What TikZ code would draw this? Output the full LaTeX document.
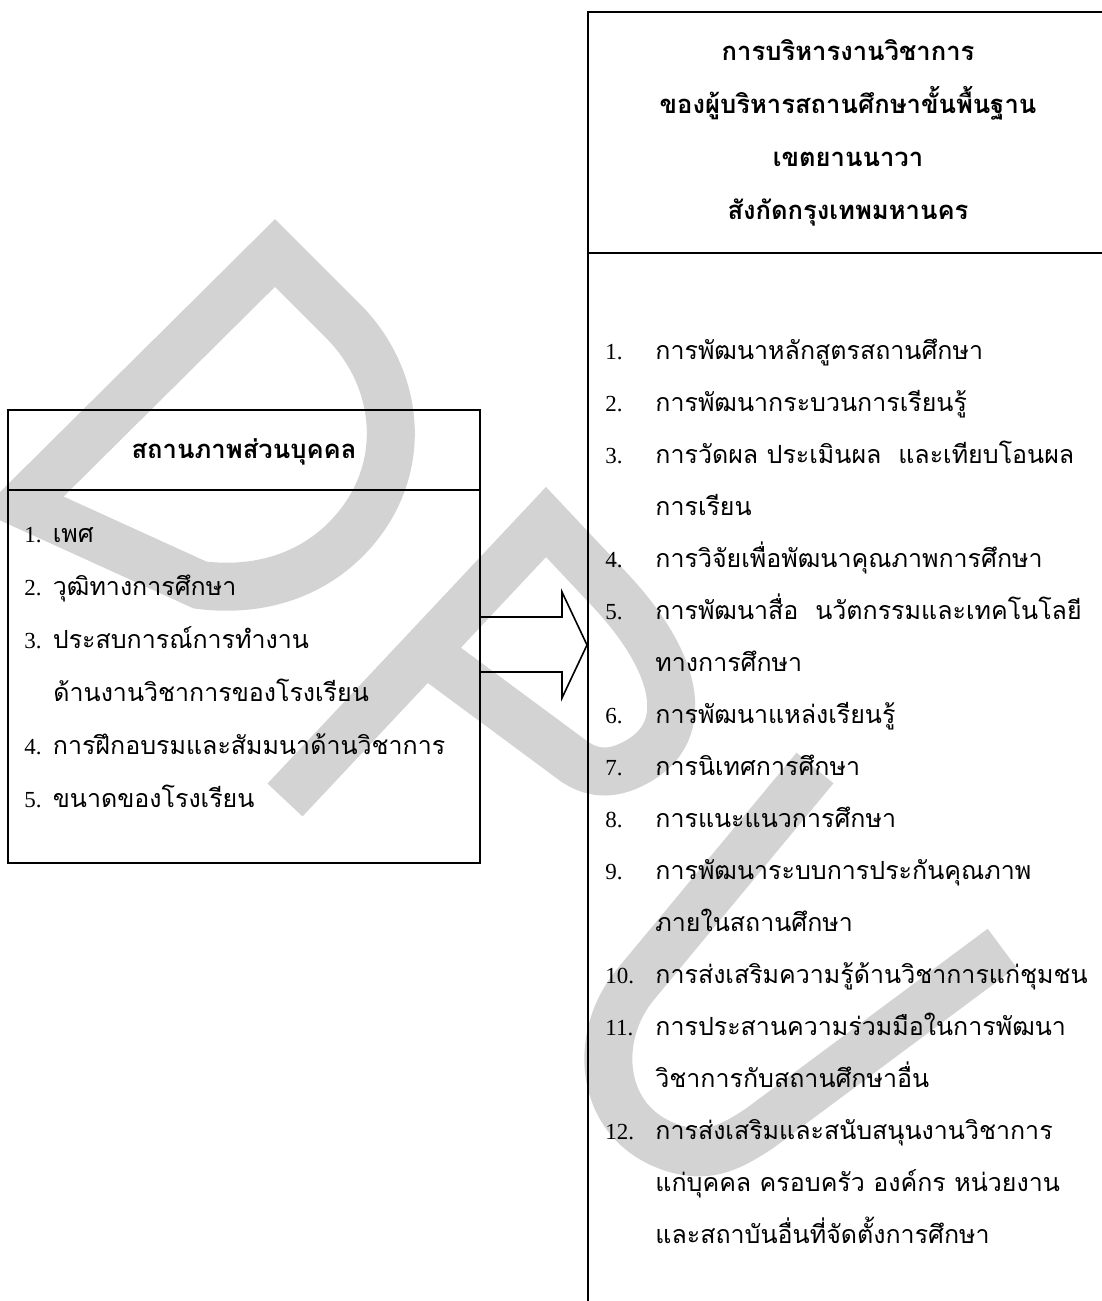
\documentclass[tikz,border=0pt]{standalone}
\usepackage{fontspec}
\newfontfamily\thaifont[Script=Thai]{Loma}
\newfontfamily\numfont{Liberation Serif}
\newcommand{\nm}[1]{{\numfont\fontsize{11.5}{14}\selectfont #1}}
\definecolor{wmgray}{RGB}{211,211,211}
\tikzset{
  wm/.style={draw=wmgray, line width=24pt, line join=miter, line cap=butt},
  box/.style={draw=black, line width=1pt, rectangle, inner sep=0pt},
  rule/.style={draw=black, line width=1pt},
  arr/.style={draw=black, line width=0.8pt, line join=miter},
  ttl/.style={anchor=base, inner sep=0pt, font=\thaifont\bfseries\fontsize{12.8}{15}\selectfont},
  itm/.style={anchor=base west, inner sep=0pt, font=\thaifont\fontsize{12.5}{15}\selectfont},
  num/.style={anchor=base west, inner sep=0pt, font=\numfont\fontsize{11.5}{14}\selectfont},
}
\begin{document}
\begin{tikzpicture}[x=0.5pt,y=-0.5pt]
\useasboundingbox (0,0) rectangle (1102,1301);
\clip (0,0) rectangle (1102,1301);
% watermark
\draw[wm] (22,504) -- (275,253) -- (345,323) .. controls (400,380) and (410,470) .. (350,535) .. controls (310,578) and (255,592) .. (200,585) -- cycle;
\draw[wm] (285,800) -- (546,522) -- (610,590) .. controls (680,665) and (690,730) .. (640,760) .. controls (615,775) and (595,775) .. (575,762) -- (425,651);
\draw[wm] (815,768) -- (635,985) .. controls (590,1040) and (600,1130) .. (680,1150) .. controls (710,1157) and (730,1148) .. (760,1128) -- (1002,948);
% boxes
\node[box, minimum width=236pt, minimum height=226.5pt] (lbox) at (244,636.5) {};
\node[box, minimum width=271pt, minimum height=659pt] (rbox) at (859,671) {};
\draw[rule] (lbox.west |- 0,490) -- (lbox.east |- 0,490);
\draw[rule] (rbox.west |- 0,253) -- (rbox.east |- 0,253);
% arrow
\draw[arr] (lbox.east |- 0,617) -- (562,617) -- (562,592) -- (rbox.west |- 0,645) -- (562,698) -- (562,672) -- (lbox.east |- 0,672);
% right title
\node[ttl] (rt1) at (848,61) {การบริหารงานวิชาการ};
\node[ttl] (rt2) at (848,113) {ของผู้บริหารสถานศึกษาขั้นพื้นฐาน};
\node[ttl] (rt3) at (848,166) {เขตยานนาวา};
\node[ttl] (rt4) at (848,219) {สังกัดกรุงเทพมหานคร};
% left title
\node[ttl] (lt) at (244,458) {สถานภาพส่วนบุคคล};
% left items
\node[itm] (l1) at (24,542) {\nm{1.} เพศ};
\node[itm] (l2) at (24,595) {\nm{2.} วุฒิทางการศึกษา};
\node[itm] (l3) at (24,648) {\nm{3.} ประสบการณ์การทำงาน};
\node[itm] (l3b) at (53,701) {ด้านงานวิชาการของโรงเรียน};
\node[itm] (l4) at (24,754) {\nm{4.} การฝึกอบรมและสัมมนาด้านวิชาการ};
\node[itm] (l5) at (24,807) {\nm{5.} ขนาดของโรงเรียน};
% right items
\node[num] (n1) at (605,359) {1.};
\node[itm] (r1) at (655,359) {การพัฒนาหลักสูตรสถานศึกษา};
\node[num] (n2) at (605,411) {2.};
\node[itm] (r2) at (655,411) {การพัฒนากระบวนการเรียนรู้};
\node[num] (n3) at (605,463) {3.};
\node[itm] (r3) at (655,463) {การวัดผล ประเมินผล\ \ และเทียบโอนผล};
\node[itm] (r3b) at (655,515) {การเรียน};
\node[num] (n4) at (605,567) {4.};
\node[itm] (r4) at (655,567) {การวิจัยเพื่อพัฒนาคุณภาพการศึกษา};
\node[num] (n5) at (605,619) {5.};
\node[itm] (r5) at (655,619) {การพัฒนาสื่อ\ \ นวัตกรรมและเทคโนโลยี};
\node[itm] (r5b) at (655,671) {ทางการศึกษา};
\node[num] (n6) at (605,723) {6.};
\node[itm] (r6) at (655,723) {การพัฒนาแหล่งเรียนรู้};
\node[num] (n7) at (605,775) {7.};
\node[itm] (r7) at (655,775) {การนิเทศการศึกษา};
\node[num] (n8) at (605,827) {8.};
\node[itm] (r8) at (655,827) {การแนะแนวการศึกษา};
\node[num] (n9) at (605,879) {9.};
\node[itm] (r9) at (655,879) {การพัฒนาระบบการประกันคุณภาพ};
\node[itm] (r9b) at (655,931) {ภายในสถานศึกษา};
\node[num] (n10) at (605,983) {10.};
\node[itm] (r10) at (655,983) {การส่งเสริมความรู้ด้านวิชาการแก่ชุมชน};
\node[num] (n11) at (605,1035) {11.};
\node[itm] (r11) at (655,1035) {การประสานความร่วมมือในการพัฒนา};
\node[itm] (r11b) at (655,1087) {วิชาการกับสถานศึกษาอื่น};
\node[num] (n12) at (605,1139) {12.};
\node[itm] (r12) at (655,1139) {การส่งเสริมและสนับสนุนงานวิชาการ};
\node[itm] (r12b) at (655,1191) {แก่บุคคล ครอบครัว องค์กร หน่วยงาน};
\node[itm] (r12c) at (655,1243) {และสถาบันอื่นที่จัดตั้งการศึกษา};
\end{tikzpicture}
\end{document}
